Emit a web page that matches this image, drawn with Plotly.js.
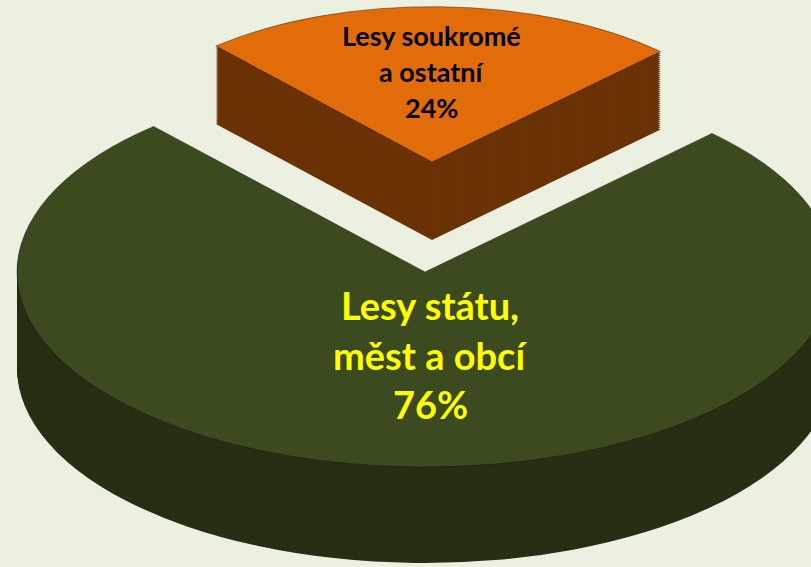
<!DOCTYPE html>
<html><head><meta charset="utf-8">
<script src="https://cdn.plot.ly/plotly-3.0.1.min.js"></script>
<style>
html,body{margin:0;padding:0;overflow:hidden;background:#ecf0e1;width:811px;height:567px}
#chart{width:850px;height:1250px}
#chart .pielayer{transform:scaleY(0.478);transform-origin:0 0}
</style></head><body><div id="chart"></div>
<script>
// ---- data ----
const labels = ["Lesy soukromé<br>a ostatní", "Lesy státu,<br>měst a obcí"];
const values = [24, 76];
const topColors = ["#e36c0a", "#3b4a1f"];
const sideColors = ["#6a3205", "#262f14"];
const textColors = ["#000000", "#ffff00"];

// ---- layout geometry (screen px) ----
const W = 850, H = 1250, S = 0.478;
const geom = [
  {cx: 432, cy: 162, r: 325, depth: 78},   // pulled-out slice
  {cx: 425, cy: 272, r: 408, depth: 96}    // main slice
];
const total = values.reduce((a, b) => a + b, 0);
const ROT = 1.5 - 180 * values[0] / total;
const STEP = 2;
const CLEAR = "rgba(0,0,0,0)";

function domainFor(g, off) {
  const Y = (g.cy + off) / S;
  return {x: [(g.cx - g.r) / W, (g.cx + g.r) / W], y: [1 - (Y + g.r) / H, 1 - (Y - g.r) / H]};
}
function pie(idx, color, dom, lineW) {
  return {
    type: "pie", values: values, labels: labels, sort: false,
    direction: "clockwise", rotation: ROT, domain: dom,
    textinfo: "none", hoverinfo: "skip", showlegend: false,
    marker: {colors: values.map((v, i) => i === idx ? color : CLEAR),
             line: {width: lineW, color: values.map((v, i) => i === idx ? "rgba(20,20,10,0.6)" : CLEAR)}}
  };
}
const data = [];
[0, 1].forEach(idx => {
  const g = geom[idx];
  const n = Math.ceil(g.depth / STEP);
  for (let k = n; k >= 1; k--) data.push(pie(idx, sideColors[idx], domainFor(g, Math.min(k * STEP, g.depth)), 0));
  data.push(pie(idx, topColors[idx], domainFor(g, 0), 1));
});

// ---- labels ----
const textPos = [
  {x: 432, ys: [35, 72, 107], size: 27},
  {x: 430, ys: [305, 355, 404], size: 38}
];
const annotations = [];
values.forEach((v, i) => {
  const lines = labels[i].split("<br>").concat([Math.round(v / total * 100) + "%"]);
  lines.forEach((t, j) => annotations.push({
    text: "<b>" + t + "</b>", x: textPos[i].x / W, y: 1 - textPos[i].ys[j] / H,
    xref: "paper", yref: "paper", xanchor: "center", yanchor: "middle", showarrow: false,
    font: {family: "Lato, 'Open Sans', sans-serif", size: textPos[i].size, color: textColors[i]}
  }));
});

Plotly.newPlot("chart", data, {
  width: W, height: H, margin: {l: 0, r: 0, t: 0, b: 0},
  paper_bgcolor: "#ecf0e1", plot_bgcolor: "#ecf0e1",
  showlegend: false, hovermode: false, annotations: annotations
}, {staticPlot: true, displayModeBar: false});
</script></body></html>
